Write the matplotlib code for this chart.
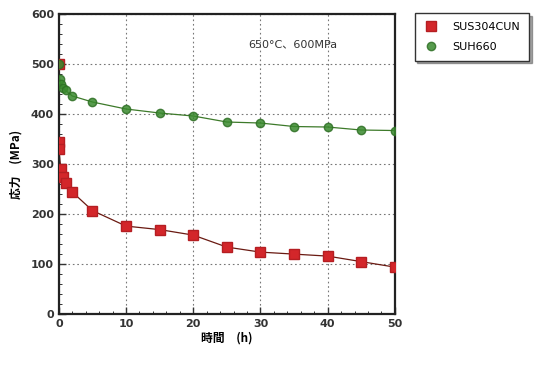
import matplotlib.pyplot as plt
from matplotlib.ticker import MultipleLocator

plt.rcParams["font.family"] = ["DejaVu Sans", "Noto Sans CJK JP"]

# creep relaxation data
t_sus = [0, 0, 0, 0.3, 0.6, 1, 2, 5, 10, 15, 20, 25, 30, 35, 40, 45, 50]
s_sus = [500, 345, 330, 290, 275, 262, 244, 207, 176, 169, 158, 134, 124, 120, 116, 105, 94]
t_suh = [0, 0.1, 0.3, 0.6, 1, 2, 5, 10, 15, 20, 25, 30, 35, 40, 45, 50]
s_suh = [500, 470, 460, 452, 447, 436, 424, 410, 402, 396, 384, 382, 375, 374, 368, 367]

labels = ["SUS304CUN", "SUH660"]
note = "650°C、600MPa"

fig = plt.figure(figsize=(5.35, 3.67), dpi=100)
ax = fig.add_axes([0.110, 0.144, 0.628, 0.818])

ax.plot(t_sus, s_sus, "-", color="#6a1a12", lw=0.9, zorder=2)
ax.plot(t_sus, s_sus, "s", ms=7, color="#d3262a", mec="#b51e22", ls="none",
        zorder=3, label=labels[0])
ax.plot(t_suh, s_suh, "-", color="#3d7a2a", lw=0.9, zorder=2)
ax.plot(t_suh, s_suh, "o", ms=6, color="#3a8a2e", mec="#2f7025", ls="none",
        alpha=0.85, zorder=4, label=labels[1])

ax.set_xlim(0, 50)
ax.set_ylim(0, 600)
ax.xaxis.set_major_locator(MultipleLocator(10))
ax.xaxis.set_minor_locator(MultipleLocator(2))
ax.yaxis.set_major_locator(MultipleLocator(100))
ax.yaxis.set_minor_locator(MultipleLocator(20))
ax.tick_params(which="both", direction="in", labelsize=8, colors="#333333")
ax.tick_params(which="major", length=5, width=1)
ax.tick_params(which="minor", length=2.5, width=0.7)
for lab in ax.get_xticklabels() + ax.get_yticklabels():
    lab.set_fontweight("bold")
for sp in ax.spines.values():
    sp.set_linewidth(1.6)
    sp.set_color("#222222")
ax.grid(True, which="major", ls=(0, (1.5, 2.5)), color="#777777", lw=0.8)

ax.text(0.565, 0.89, note, transform=ax.transAxes, fontsize=8,
        family=["DejaVu Sans", "Noto Sans CJK JP"], color="#333333")
ax.set_xlabel("時間　(h)", fontsize=8.5, fontweight="bold", labelpad=2,
              family=["Noto Sans CJK JP", "DejaVu Sans"])
ax.set_ylabel("応力　(MPa)", fontsize=8.5, fontweight="bold", labelpad=6,
              family=["Noto Sans CJK JP", "DejaVu Sans"])

leg = fig.legend(loc="upper left", bbox_to_anchor=(0.775, 0.965), fontsize=8,
                 frameon=True, fancybox=False, shadow=True, handletextpad=1.2,
                 borderpad=0.8, borderaxespad=0, labelspacing=0.9,
                 handlelength=1.4)
leg.get_frame().set_edgecolor("#333333")
leg.get_frame().set_linewidth(1.0)

fig.savefig("out.png", dpi=100)
